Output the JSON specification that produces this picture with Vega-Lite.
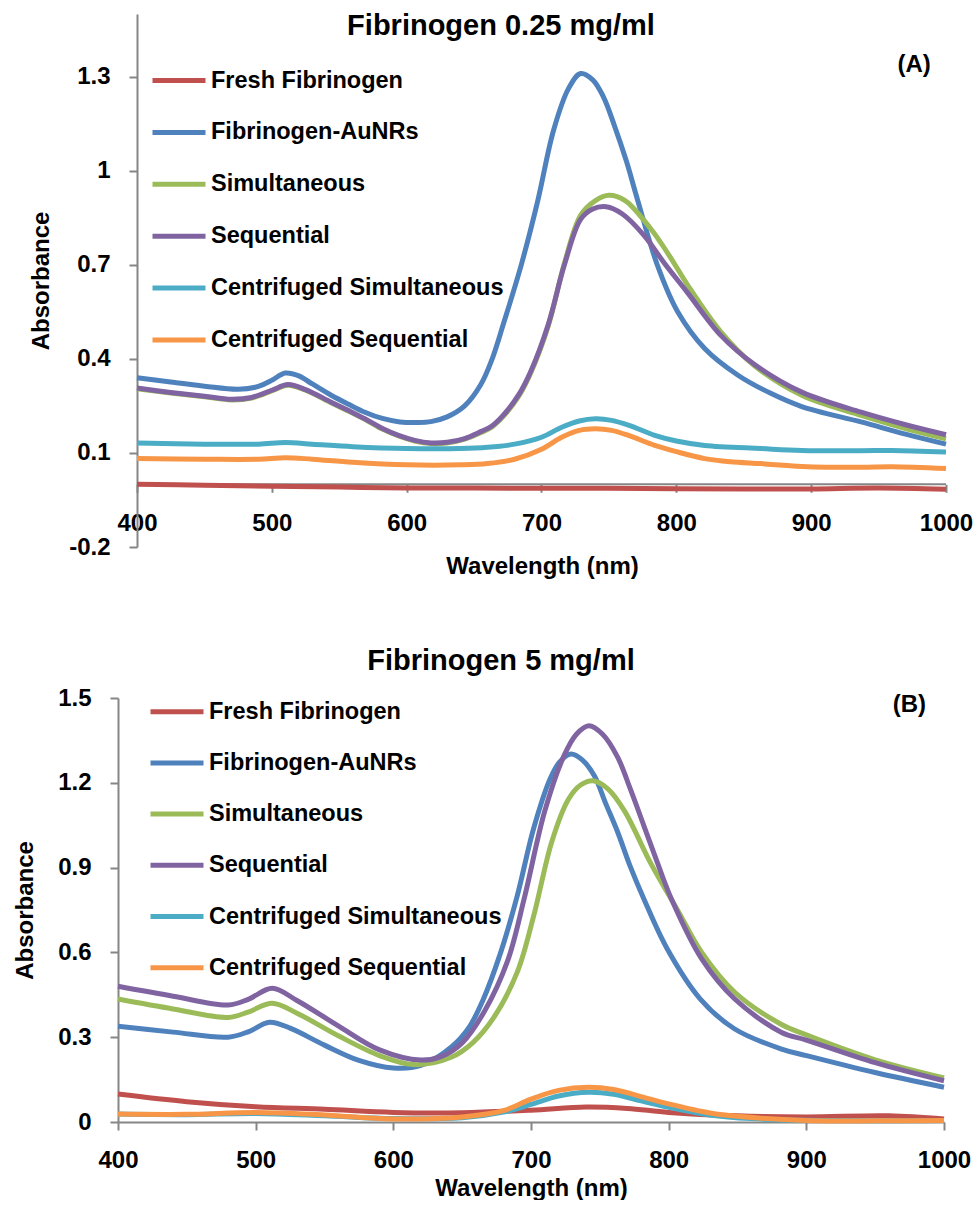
{
  "$schema": "https://vega.github.io/schema/vega-lite/v6.json",
  "background": "white",
  "padding": {"left": 13, "top": 12, "right": 0, "bottom": 0},
  "spacing": 67,
  "columns": 1,
  "datasets": {
    "A": [
      {"series":"Fresh Fibrinogen","nm":400,"abs":0.000},{"series":"Fresh Fibrinogen","nm":450,"abs":-0.003},{"series":"Fresh Fibrinogen","nm":500,"abs":-0.006},{"series":"Fresh Fibrinogen","nm":550,"abs":-0.009},{"series":"Fresh Fibrinogen","nm":600,"abs":-0.012},{"series":"Fresh Fibrinogen","nm":650,"abs":-0.012},{"series":"Fresh Fibrinogen","nm":700,"abs":-0.013},{"series":"Fresh Fibrinogen","nm":750,"abs":-0.013},{"series":"Fresh Fibrinogen","nm":800,"abs":-0.014},{"series":"Fresh Fibrinogen","nm":850,"abs":-0.015},{"series":"Fresh Fibrinogen","nm":900,"abs":-0.015},{"series":"Fresh Fibrinogen","nm":950,"abs":-0.012},{"series":"Fresh Fibrinogen","nm":1000,"abs":-0.016},
      {"series":"Fibrinogen-AuNRs","nm":400,"abs":0.340},{"series":"Fibrinogen-AuNRs","nm":425,"abs":0.326},{"series":"Fibrinogen-AuNRs","nm":450,"abs":0.313},{"series":"Fibrinogen-AuNRs","nm":475,"abs":0.303},{"series":"Fibrinogen-AuNRs","nm":490,"abs":0.312},{"series":"Fibrinogen-AuNRs","nm":500,"abs":0.332},{"series":"Fibrinogen-AuNRs","nm":510,"abs":0.355},{"series":"Fibrinogen-AuNRs","nm":520,"abs":0.346},{"series":"Fibrinogen-AuNRs","nm":530,"abs":0.320},{"series":"Fibrinogen-AuNRs","nm":544,"abs":0.284},{"series":"Fibrinogen-AuNRs","nm":557,"abs":0.255},{"series":"Fibrinogen-AuNRs","nm":569,"abs":0.230},{"series":"Fibrinogen-AuNRs","nm":582,"abs":0.210},{"series":"Fibrinogen-AuNRs","nm":595,"abs":0.199},{"series":"Fibrinogen-AuNRs","nm":608,"abs":0.197},{"series":"Fibrinogen-AuNRs","nm":618,"abs":0.200},{"series":"Fibrinogen-AuNRs","nm":630,"abs":0.215},{"series":"Fibrinogen-AuNRs","nm":643,"abs":0.250},{"series":"Fibrinogen-AuNRs","nm":655,"abs":0.318},{"series":"Fibrinogen-AuNRs","nm":663,"abs":0.395},{"series":"Fibrinogen-AuNRs","nm":672,"abs":0.515},{"series":"Fibrinogen-AuNRs","nm":685,"abs":0.700},{"series":"Fibrinogen-AuNRs","nm":697,"abs":0.900},{"series":"Fibrinogen-AuNRs","nm":709,"abs":1.130},{"series":"Fibrinogen-AuNRs","nm":720,"abs":1.262},{"series":"Fibrinogen-AuNRs","nm":729,"abs":1.310},{"series":"Fibrinogen-AuNRs","nm":738,"abs":1.290},{"series":"Fibrinogen-AuNRs","nm":746,"abs":1.235},{"series":"Fibrinogen-AuNRs","nm":754,"abs":1.145},{"series":"Fibrinogen-AuNRs","nm":763,"abs":1.030},{"series":"Fibrinogen-AuNRs","nm":771,"abs":0.911},{"series":"Fibrinogen-AuNRs","nm":786,"abs":0.698},{"series":"Fibrinogen-AuNRs","nm":801,"abs":0.550},{"series":"Fibrinogen-AuNRs","nm":821,"abs":0.433},{"series":"Fibrinogen-AuNRs","nm":846,"abs":0.347},{"series":"Fibrinogen-AuNRs","nm":870,"abs":0.290},{"series":"Fibrinogen-AuNRs","nm":893,"abs":0.248},{"series":"Fibrinogen-AuNRs","nm":937,"abs":0.199},{"series":"Fibrinogen-AuNRs","nm":970,"abs":0.160},{"series":"Fibrinogen-AuNRs","nm":1000,"abs":0.128},
      {"series":"Simultaneous","nm":400,"abs":0.305},{"series":"Simultaneous","nm":425,"abs":0.291},{"series":"Simultaneous","nm":450,"abs":0.279},{"series":"Simultaneous","nm":470,"abs":0.269},{"series":"Simultaneous","nm":485,"abs":0.275},{"series":"Simultaneous","nm":500,"abs":0.298},{"series":"Simultaneous","nm":512,"abs":0.316},{"series":"Simultaneous","nm":525,"abs":0.300},{"series":"Simultaneous","nm":544,"abs":0.260},{"series":"Simultaneous","nm":557,"abs":0.233},{"series":"Simultaneous","nm":569,"abs":0.207},{"series":"Simultaneous","nm":582,"abs":0.176},{"series":"Simultaneous","nm":594,"abs":0.154},{"series":"Simultaneous","nm":606,"abs":0.138},{"series":"Simultaneous","nm":618,"abs":0.130},{"series":"Simultaneous","nm":630,"abs":0.132},{"series":"Simultaneous","nm":643,"abs":0.144},{"series":"Simultaneous","nm":655,"abs":0.165},{"series":"Simultaneous","nm":663,"abs":0.182},{"series":"Simultaneous","nm":672,"abs":0.218},{"series":"Simultaneous","nm":683,"abs":0.280},{"series":"Simultaneous","nm":692,"abs":0.355},{"series":"Simultaneous","nm":705,"abs":0.505},{"series":"Simultaneous","nm":717,"abs":0.705},{"series":"Simultaneous","nm":729,"abs":0.858},{"series":"Simultaneous","nm":740,"abs":0.905},{"series":"Simultaneous","nm":750,"abs":0.922},{"series":"Simultaneous","nm":762,"abs":0.905},{"series":"Simultaneous","nm":781,"abs":0.815},{"series":"Simultaneous","nm":795,"abs":0.728},{"series":"Simultaneous","nm":808,"abs":0.638},{"series":"Simultaneous","nm":833,"abs":0.486},{"series":"Simultaneous","nm":858,"abs":0.378},{"series":"Simultaneous","nm":893,"abs":0.284},{"series":"Simultaneous","nm":937,"abs":0.220},{"series":"Simultaneous","nm":970,"abs":0.178},{"series":"Simultaneous","nm":1000,"abs":0.145},
      {"series":"Sequential","nm":400,"abs":0.307},{"series":"Sequential","nm":425,"abs":0.293},{"series":"Sequential","nm":450,"abs":0.281},{"series":"Sequential","nm":470,"abs":0.271},{"series":"Sequential","nm":485,"abs":0.277},{"series":"Sequential","nm":500,"abs":0.300},{"series":"Sequential","nm":512,"abs":0.318},{"series":"Sequential","nm":525,"abs":0.302},{"series":"Sequential","nm":544,"abs":0.262},{"series":"Sequential","nm":557,"abs":0.235},{"series":"Sequential","nm":569,"abs":0.209},{"series":"Sequential","nm":582,"abs":0.178},{"series":"Sequential","nm":594,"abs":0.156},{"series":"Sequential","nm":606,"abs":0.140},{"series":"Sequential","nm":618,"abs":0.132},{"series":"Sequential","nm":630,"abs":0.134},{"series":"Sequential","nm":643,"abs":0.146},{"series":"Sequential","nm":655,"abs":0.168},{"series":"Sequential","nm":663,"abs":0.185},{"series":"Sequential","nm":672,"abs":0.222},{"series":"Sequential","nm":683,"abs":0.285},{"series":"Sequential","nm":692,"abs":0.360},{"series":"Sequential","nm":705,"abs":0.510},{"series":"Sequential","nm":717,"abs":0.700},{"series":"Sequential","nm":729,"abs":0.845},{"series":"Sequential","nm":738,"abs":0.878},{"series":"Sequential","nm":748,"abs":0.885},{"series":"Sequential","nm":760,"abs":0.862},{"series":"Sequential","nm":776,"abs":0.794},{"series":"Sequential","nm":792,"abs":0.700},{"series":"Sequential","nm":808,"abs":0.613},{"series":"Sequential","nm":833,"abs":0.475},{"series":"Sequential","nm":858,"abs":0.382},{"series":"Sequential","nm":893,"abs":0.294},{"series":"Sequential","nm":937,"abs":0.230},{"series":"Sequential","nm":970,"abs":0.190},{"series":"Sequential","nm":1000,"abs":0.158},
      {"series":"Centrifuged Simultaneous","nm":400,"abs":0.132},{"series":"Centrifuged Simultaneous","nm":450,"abs":0.128},{"series":"Centrifuged Simultaneous","nm":490,"abs":0.128},{"series":"Centrifuged Simultaneous","nm":510,"abs":0.133},{"series":"Centrifuged Simultaneous","nm":530,"abs":0.128},{"series":"Centrifuged Simultaneous","nm":560,"abs":0.120},{"series":"Centrifuged Simultaneous","nm":600,"abs":0.114},{"series":"Centrifuged Simultaneous","nm":640,"abs":0.114},{"series":"Centrifuged Simultaneous","nm":660,"abs":0.118},{"series":"Centrifuged Simultaneous","nm":680,"abs":0.128},{"series":"Centrifuged Simultaneous","nm":700,"abs":0.150},{"series":"Centrifuged Simultaneous","nm":715,"abs":0.182},{"series":"Centrifuged Simultaneous","nm":728,"abs":0.202},{"series":"Centrifuged Simultaneous","nm":740,"abs":0.209},{"series":"Centrifuged Simultaneous","nm":752,"abs":0.204},{"series":"Centrifuged Simultaneous","nm":765,"abs":0.188},{"series":"Centrifuged Simultaneous","nm":784,"abs":0.156},{"series":"Centrifuged Simultaneous","nm":800,"abs":0.138},{"series":"Centrifuged Simultaneous","nm":821,"abs":0.124},{"series":"Centrifuged Simultaneous","nm":863,"abs":0.114},{"series":"Centrifuged Simultaneous","nm":893,"abs":0.108},{"series":"Centrifuged Simultaneous","nm":937,"abs":0.107},{"series":"Centrifuged Simultaneous","nm":960,"abs":0.108},{"series":"Centrifuged Simultaneous","nm":1000,"abs":0.103},
      {"series":"Centrifuged Sequential","nm":400,"abs":0.082},{"series":"Centrifuged Sequential","nm":450,"abs":0.080},{"series":"Centrifuged Sequential","nm":490,"abs":0.080},{"series":"Centrifuged Sequential","nm":510,"abs":0.085},{"series":"Centrifuged Sequential","nm":530,"abs":0.080},{"series":"Centrifuged Sequential","nm":560,"abs":0.070},{"series":"Centrifuged Sequential","nm":600,"abs":0.062},{"series":"Centrifuged Sequential","nm":640,"abs":0.062},{"series":"Centrifuged Sequential","nm":660,"abs":0.066},{"series":"Centrifuged Sequential","nm":680,"abs":0.080},{"series":"Centrifuged Sequential","nm":700,"abs":0.112},{"series":"Centrifuged Sequential","nm":715,"abs":0.150},{"series":"Centrifuged Sequential","nm":728,"abs":0.172},{"series":"Centrifuged Sequential","nm":740,"abs":0.177},{"series":"Centrifuged Sequential","nm":752,"abs":0.172},{"series":"Centrifuged Sequential","nm":765,"abs":0.155},{"series":"Centrifuged Sequential","nm":784,"abs":0.124},{"series":"Centrifuged Sequential","nm":800,"abs":0.104},{"series":"Centrifuged Sequential","nm":821,"abs":0.082},{"series":"Centrifuged Sequential","nm":840,"abs":0.072},{"series":"Centrifuged Sequential","nm":863,"abs":0.066},{"series":"Centrifuged Sequential","nm":893,"abs":0.057},{"series":"Centrifuged Sequential","nm":937,"abs":0.054},{"series":"Centrifuged Sequential","nm":960,"abs":0.056},{"series":"Centrifuged Sequential","nm":1000,"abs":0.050}
    ],
    "B": [
      {"series":"Fresh Fibrinogen","nm":400,"abs":0.099},{"series":"Fresh Fibrinogen","nm":450,"abs":0.072},{"series":"Fresh Fibrinogen","nm":500,"abs":0.054},{"series":"Fresh Fibrinogen","nm":550,"abs":0.045},{"series":"Fresh Fibrinogen","nm":600,"abs":0.034},{"series":"Fresh Fibrinogen","nm":650,"abs":0.033},{"series":"Fresh Fibrinogen","nm":700,"abs":0.042},{"series":"Fresh Fibrinogen","nm":740,"abs":0.053},{"series":"Fresh Fibrinogen","nm":770,"abs":0.048},{"series":"Fresh Fibrinogen","nm":800,"abs":0.034},{"series":"Fresh Fibrinogen","nm":850,"abs":0.022},{"series":"Fresh Fibrinogen","nm":900,"abs":0.018},{"series":"Fresh Fibrinogen","nm":960,"abs":0.022},{"series":"Fresh Fibrinogen","nm":1000,"abs":0.011},
      {"series":"Fibrinogen-AuNRs","nm":400,"abs":0.339},{"series":"Fibrinogen-AuNRs","nm":440,"abs":0.318},{"series":"Fibrinogen-AuNRs","nm":480,"abs":0.300},{"series":"Fibrinogen-AuNRs","nm":495,"abs":0.320},{"series":"Fibrinogen-AuNRs","nm":510,"abs":0.353},{"series":"Fibrinogen-AuNRs","nm":525,"abs":0.332},{"series":"Fibrinogen-AuNRs","nm":550,"abs":0.272},{"series":"Fibrinogen-AuNRs","nm":575,"abs":0.218},{"series":"Fibrinogen-AuNRs","nm":600,"abs":0.191},{"series":"Fibrinogen-AuNRs","nm":620,"abs":0.200},{"series":"Fibrinogen-AuNRs","nm":642,"abs":0.265},{"series":"Fibrinogen-AuNRs","nm":655,"abs":0.335},{"series":"Fibrinogen-AuNRs","nm":665,"abs":0.430},{"series":"Fibrinogen-AuNRs","nm":678,"abs":0.600},{"series":"Fibrinogen-AuNRs","nm":690,"abs":0.800},{"series":"Fibrinogen-AuNRs","nm":702,"abs":1.040},{"series":"Fibrinogen-AuNRs","nm":714,"abs":1.215},{"series":"Fibrinogen-AuNRs","nm":721,"abs":1.275},{"series":"Fibrinogen-AuNRs","nm":729,"abs":1.302},{"series":"Fibrinogen-AuNRs","nm":737,"abs":1.282},{"series":"Fibrinogen-AuNRs","nm":746,"abs":1.225},{"series":"Fibrinogen-AuNRs","nm":754,"abs":1.130},{"series":"Fibrinogen-AuNRs","nm":763,"abs":1.025},{"series":"Fibrinogen-AuNRs","nm":772,"abs":0.905},{"series":"Fibrinogen-AuNRs","nm":782,"abs":0.789},{"series":"Fibrinogen-AuNRs","nm":799,"abs":0.612},{"series":"Fibrinogen-AuNRs","nm":823,"abs":0.435},{"series":"Fibrinogen-AuNRs","nm":848,"abs":0.329},{"series":"Fibrinogen-AuNRs","nm":882,"abs":0.258},{"series":"Fibrinogen-AuNRs","nm":900,"abs":0.235},{"series":"Fibrinogen-AuNRs","nm":950,"abs":0.175},{"series":"Fibrinogen-AuNRs","nm":1000,"abs":0.123},
      {"series":"Simultaneous","nm":400,"abs":0.435},{"series":"Simultaneous","nm":440,"abs":0.400},{"series":"Simultaneous","nm":480,"abs":0.370},{"series":"Simultaneous","nm":495,"abs":0.390},{"series":"Simultaneous","nm":512,"abs":0.420},{"series":"Simultaneous","nm":530,"abs":0.385},{"series":"Simultaneous","nm":560,"abs":0.305},{"series":"Simultaneous","nm":590,"abs":0.235},{"series":"Simultaneous","nm":615,"abs":0.203},{"series":"Simultaneous","nm":642,"abs":0.229},{"series":"Simultaneous","nm":658,"abs":0.282},{"series":"Simultaneous","nm":673,"abs":0.370},{"series":"Simultaneous","nm":690,"abs":0.530},{"series":"Simultaneous","nm":702,"abs":0.730},{"series":"Simultaneous","nm":715,"abs":0.990},{"series":"Simultaneous","nm":727,"abs":1.140},{"series":"Simultaneous","nm":736,"abs":1.192},{"series":"Simultaneous","nm":745,"abs":1.207},{"series":"Simultaneous","nm":756,"abs":1.178},{"series":"Simultaneous","nm":768,"abs":1.100},{"series":"Simultaneous","nm":787,"abs":0.915},{"series":"Simultaneous","nm":807,"abs":0.745},{"series":"Simultaneous","nm":824,"abs":0.600},{"series":"Simultaneous","nm":848,"abs":0.459},{"series":"Simultaneous","nm":882,"abs":0.345},{"series":"Simultaneous","nm":900,"abs":0.308},{"series":"Simultaneous","nm":950,"abs":0.220},{"series":"Simultaneous","nm":1000,"abs":0.156},
      {"series":"Sequential","nm":400,"abs":0.480},{"series":"Sequential","nm":440,"abs":0.445},{"series":"Sequential","nm":480,"abs":0.414},{"series":"Sequential","nm":495,"abs":0.435},{"series":"Sequential","nm":512,"abs":0.473},{"series":"Sequential","nm":530,"abs":0.430},{"series":"Sequential","nm":560,"abs":0.340},{"series":"Sequential","nm":590,"abs":0.255},{"series":"Sequential","nm":620,"abs":0.219},{"series":"Sequential","nm":635,"abs":0.232},{"series":"Sequential","nm":650,"abs":0.280},{"series":"Sequential","nm":666,"abs":0.390},{"series":"Sequential","nm":683,"abs":0.570},{"series":"Sequential","nm":695,"abs":0.789},{"series":"Sequential","nm":710,"abs":1.100},{"series":"Sequential","nm":724,"abs":1.296},{"series":"Sequential","nm":733,"abs":1.372},{"series":"Sequential","nm":742,"abs":1.402},{"series":"Sequential","nm":752,"abs":1.372},{"series":"Sequential","nm":763,"abs":1.290},{"series":"Sequential","nm":772,"abs":1.180},{"series":"Sequential","nm":782,"abs":1.048},{"series":"Sequential","nm":792,"abs":0.915},{"series":"Sequential","nm":802,"abs":0.789},{"series":"Sequential","nm":824,"abs":0.577},{"series":"Sequential","nm":848,"abs":0.435},{"series":"Sequential","nm":882,"abs":0.317},{"series":"Sequential","nm":900,"abs":0.290},{"series":"Sequential","nm":950,"abs":0.210},{"series":"Sequential","nm":1000,"abs":0.146},
      {"series":"Centrifuged Simultaneous","nm":400,"abs":0.028},{"series":"Centrifuged Simultaneous","nm":450,"abs":0.026},{"series":"Centrifuged Simultaneous","nm":500,"abs":0.030},{"series":"Centrifuged Simultaneous","nm":550,"abs":0.022},{"series":"Centrifuged Simultaneous","nm":600,"abs":0.012},{"series":"Centrifuged Simultaneous","nm":650,"abs":0.015},{"series":"Centrifuged Simultaneous","nm":680,"abs":0.035},{"series":"Centrifuged Simultaneous","nm":700,"abs":0.062},{"series":"Centrifuged Simultaneous","nm":720,"abs":0.092},{"series":"Centrifuged Simultaneous","nm":742,"abs":0.105},{"series":"Centrifuged Simultaneous","nm":760,"abs":0.098},{"series":"Centrifuged Simultaneous","nm":780,"abs":0.075},{"series":"Centrifuged Simultaneous","nm":800,"abs":0.052},{"series":"Centrifuged Simultaneous","nm":830,"abs":0.025},{"series":"Centrifuged Simultaneous","nm":860,"abs":0.012},{"series":"Centrifuged Simultaneous","nm":900,"abs":0.006},{"series":"Centrifuged Simultaneous","nm":1000,"abs":0.005},
      {"series":"Centrifuged Sequential","nm":400,"abs":0.028},{"series":"Centrifuged Sequential","nm":450,"abs":0.027},{"series":"Centrifuged Sequential","nm":500,"abs":0.034},{"series":"Centrifuged Sequential","nm":550,"abs":0.025},{"series":"Centrifuged Sequential","nm":600,"abs":0.011},{"series":"Centrifuged Sequential","nm":650,"abs":0.018},{"series":"Centrifuged Sequential","nm":680,"abs":0.040},{"series":"Centrifuged Sequential","nm":700,"abs":0.081},{"series":"Centrifuged Sequential","nm":720,"abs":0.112},{"series":"Centrifuged Sequential","nm":742,"abs":0.123},{"series":"Centrifuged Sequential","nm":760,"abs":0.115},{"series":"Centrifuged Sequential","nm":780,"abs":0.090},{"series":"Centrifuged Sequential","nm":800,"abs":0.064},{"series":"Centrifuged Sequential","nm":830,"abs":0.032},{"series":"Centrifuged Sequential","nm":850,"abs":0.020},{"series":"Centrifuged Sequential","nm":900,"abs":0.005},{"series":"Centrifuged Sequential","nm":950,"abs":0.004},{"series":"Centrifuged Sequential","nm":1000,"abs":0.005}
    ]
  },
  "resolve": {"scale": {"x": "independent", "y": "independent", "color": "independent"}, "legend": {"color": "independent"}},
  "concat": [
    {
      "width": 828,
      "height": 533,
      "title": {"text": "Fibrinogen 0.25 mg/ml", "offset": -50, "baseline": "alphabetic", "dx": -31},
      "layer": [
        {
          "data": {"values": [{}]},
          "mark": {"type": "rule", "color": "#868686", "strokeWidth": 2},
          "encoding": {"x": {"datum": 400, "type": "quantitative"}, "x2": {"datum": 1000}, "y": {"datum": 0, "type": "quantitative"}}
        },
        {
          "data": {"name": "A"},
          "mark": {"type": "line", "strokeWidth": 5, "interpolate": "catmull-rom"},
          "encoding": {
            "x": {"field": "nm", "type": "quantitative", "scale": {"domain": [385.91, 1000], "nice": false, "zero": false},
                  "axis": {"title": "Wavelength (nm)", "values": [400,500,600,700,800,900,1000], "domain": false, "offset": -62.7, "labelPadding": 19, "titlePadding": 19, "titleX": 424, "labelExpr": "format(datum.value, 'd')"}},
            "y": {"field": "abs", "type": "quantitative", "scale": {"domain": [-0.2, 1.5], "nice": false, "zero": false},
                  "axis": {"title": "Absorbance", "values": [-0.2, 0.1, 0.4, 0.7, 1.0, 1.3], "offset": -19, "titlePadding": 15,
                           "labelExpr": "datum.value < 0 ? '-' + format(-datum.value, '.1f') : (abs(datum.value - 1) < 1e-9 ? '1' : format(datum.value, '.1f'))"}},
            "color": {"field": "series", "type": "nominal", "sort": null,
                      "scale": {"domain": ["Fresh Fibrinogen","Fibrinogen-AuNRs","Simultaneous","Sequential","Centrifuged Simultaneous","Centrifuged Sequential"],
                                "range": ["#C0504D","#4F81BD","#9BBB59","#8064A2","#4BACC6","#F79646"]},
                      "legend": {"orient": "none", "legendX": 32, "legendY": 37.5, "rowPadding": 10.9}}
          }
        },
        {
          "data": {"values": [{}]},
          "mark": {"type": "text", "text": "(A)", "fontSize": 24, "fontWeight": "bold", "font": "Liberation Sans", "color": "#000", "baseline": "middle", "align": "center"},
          "encoding": {"x": {"datum": 976.3, "type": "quantitative"}, "y": {"datum": 1.338, "type": "quantitative"}}
        }
      ]
    },
    {
      "width": 826,
      "height": 424,
      "title": {"text": "Fibrinogen 5 mg/ml", "offset": -16, "baseline": "alphabetic", "dx": -30},
      "layer": [
        {
          "data": {"name": "B"},
          "mark": {"type": "line", "strokeWidth": 5, "interpolate": "catmull-rom"},
          "encoding": {
            "x": {"field": "nm", "type": "quantitative", "scale": {"domain": [400, 1000], "nice": false, "zero": false},
                  "axis": {"title": "Wavelength (nm)", "values": [400,500,600,700,800,900,1000], "labelPadding": 18, "titlePadding": 4, "labelExpr": "format(datum.value, 'd')"}},
            "y": {"field": "abs", "type": "quantitative", "scale": {"domain": [0, 1.5], "nice": false, "zero": false},
                  "axis": {"title": "Absorbance", "values": [0, 0.3, 0.6, 0.9, 1.2, 1.5], "titlePadding": 20,
                           "labelExpr": "datum.value == 0 ? '0' : format(datum.value, '.1f')"}},
            "color": {"field": "series", "type": "nominal", "sort": null,
                      "scale": {"domain": ["Fresh Fibrinogen","Fibrinogen-AuNRs","Simultaneous","Sequential","Centrifuged Simultaneous","Centrifuged Sequential"],
                                "range": ["#C0504D","#4F81BD","#9BBB59","#8064A2","#4BACC6","#F79646"]},
                      "legend": {"orient": "none", "legendX": 30, "legendY": -15.3, "rowPadding": 10.2}}
          }
        },
        {
          "data": {"values": [{}]},
          "mark": {"type": "text", "text": "(B)", "fontSize": 24, "fontWeight": "bold", "font": "Liberation Sans", "color": "#000", "baseline": "middle", "align": "center"},
          "encoding": {"x": {"datum": 974.8, "type": "quantitative"}, "y": {"datum": 1.475, "type": "quantitative"}}
        }
      ]
    }
  ],
  "config": {
    "view": {"stroke": null},
    "font": "Liberation Sans",
    "axis": {
      "domainColor": "#868686", "domainWidth": 2, "tickColor": "#868686", "tickWidth": 2, "tickSize": 8,
      "grid": false, "labelFlush": false, "labelOverlap": false,
      "labelFont": "Liberation Sans", "labelFontSize": 24, "labelFontWeight": "bold", "labelColor": "#000", "labelPadding": 19,
      "titleFont": "Liberation Sans", "titleFontSize": 24, "titleFontWeight": "bold", "titleColor": "#000"
    },
    "legend": {
      "title": null, "padding": 0, "symbolType": "stroke", "symbolSize": 2809, "symbolStrokeWidth": 5,
      "labelFont": "Liberation Sans", "labelFontSize": 23.5, "labelFontWeight": "bold", "labelColor": "#000", "labelOffset": 3, "labelLimit": 0
    },
    "title": {"font": "Liberation Sans", "fontSize": 29, "fontWeight": "bold", "color": "#000", "anchor": "middle"}
  }
}
